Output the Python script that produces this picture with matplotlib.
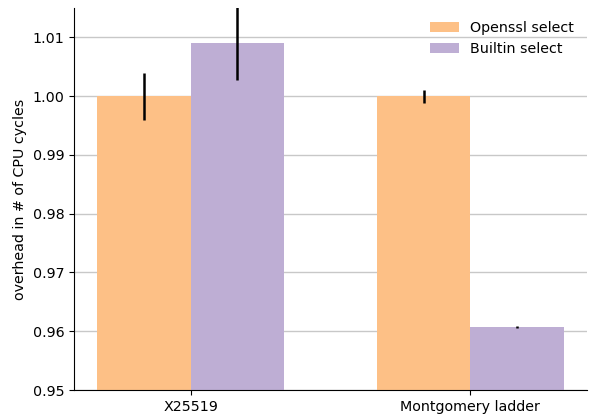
import matplotlib.pyplot as plt
import numpy as np

groups = ['X25519', 'Montgomery ladder']
openssl = [1.000, 1.000]
openssl_err = [0.0040, 0.0011]
builtin = [1.0091, 0.9607]
builtin_err = [0.0064, 0.0002]

plt.rcParams['font.size'] = 10.3

fig = plt.figure(figsize=(5.89, 4.15), dpi=100)
ax = fig.add_axes([0.1256, 0.060, 0.871, 0.921])

x = np.arange(len(groups))
w = 1 / 3
ax.bar(x - w / 2, openssl, w, yerr=openssl_err, color='#fdc086',
       error_kw=dict(elinewidth=1.8, ecolor='black'), label='Openssl select', zorder=2)
ax.bar(x + w / 2, builtin, w, yerr=builtin_err, color='#beaed4',
       error_kw=dict(elinewidth=1.8, ecolor='black'), label='Builtin select', zorder=2)

ax.set_ylim(0.95, 1.015)
ax.set_xticks(x)
ax.set_xticklabels(groups)
ax.set_ylabel('overhead in # of CPU cycles')
ax.yaxis.grid(True, color='#c8c8c8', linewidth=1, zorder=0)
ax.set_axisbelow(True)
ax.spines['top'].set_visible(False)
ax.spines['right'].set_visible(False)
ax.legend(frameon=False, loc='upper right')

fig.savefig('out.png', dpi=100)
